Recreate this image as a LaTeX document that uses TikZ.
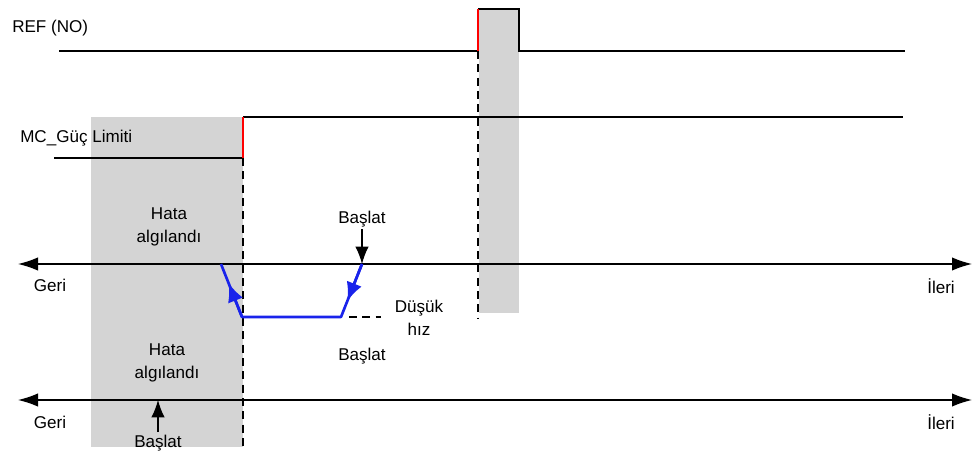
\documentclass[tikz,border=0pt]{standalone}
\usepackage{fontspec}
\setmainfont{Liberation Sans}
\usetikzlibrary{arrows.meta,calc,positioning}
\definecolor{runblue}{RGB}{25,35,235}
\definecolor{zone}{RGB}{212,212,212}

\begin{document}
\begin{tikzpicture}[x=0.75pt,y=-0.75pt,>=Latex,
  lbl/.style={font=\fontsize{12.8}{17.2}\selectfont,inner sep=0pt,align=center},
  sig/.style={line width=1.7pt},
  rise/.style={line width=1.7pt,red},
  axis/.style={line width=0.9pt,{Latex[length=15pt,width=10pt]}-{Latex[length=15pt,width=10pt]}},
  guide/.style={line width=0.8pt,dash pattern=on 6pt off 4pt},
  move/.style={line width=2pt,runblue},
  cue/.style={line width=0.9pt,-{Latex[length=13pt,width=10pt]}}]
  \useasboundingbox (0,0) rectangle (976,453);
  % shaded zones
  \fill[zone] (91,117) rectangle (243,447);
  \fill[zone] (479,9) rectangle (519,313);
  % REF (NO) signal
  \node[lbl,anchor=west] (ref) at (12,28) {REF (NO)};
  \coordinate (r0) at (59,51);
  \coordinate (r1) at (478,51);
  \coordinate (r2) at (478,9);
  \coordinate (r3) at (519,9);
  \coordinate (r4) at (519,51);
  \coordinate (r5) at (905,51);
  \draw[sig] (r0) -- (r1);
  \draw[sig] (r2) -- (r3) -- (r4) -- (r5);
  \draw[rise] (r1) -- (r2);
  % MC_Power limit signal
  \node[lbl,anchor=west] (mcp) at (20,138) {MC\_Güç Limiti};
  \coordinate (m0) at (54,158);
  \coordinate (m1) at (243,158);
  \coordinate (m2) at (243,117);
  \coordinate (m3) at (903,117);
  \draw[sig] (m0) -- (m1);
  \draw[sig] (m2) -- (m3);
  \draw[rise] (m1) -- (m2);
  % guides
  \coordinate (g1) at (243,447);
  \coordinate (g2) at (478,318);
  \draw[guide] (m1) -- (g1);
  \draw[guide] (r1) -- (g2);
  % upper axis
  \coordinate (a0) at (18,264);
  \coordinate (a1) at (972,264);
  \draw[axis] (a0) -- (a1);
  \node[lbl] (geri1) at (50,285) {Geri};
  \node[lbl] (ileri1) at (941,286) {İleri};
  \node[lbl] (hata1) at (169,227) {Hata\\algılandı};
  \node[lbl] (start1) at (362,219) {Başlat};
  \coordinate (s1) at (362,264);
  \coordinate (t1) at (362,229);
  \draw[cue] (t1) -- (s1);
  % blue motion
  \coordinate (b1) at (341,317);
  \coordinate (b2) at (242,317);
  \coordinate (b3) at (221,264);
  \draw[move,line join=round] (s1) -- (b1) -- (b2) -- (b3);
  \draw[move,-{Latex[length=14pt,width=12pt]}] (s1) -- ($(s1)!0.7!(b1)$);
  \draw[move,-{Latex[length=14pt,width=12pt]}] (b2) -- ($(b2)!0.64!(b3)$);
  \coordinate (d1) at (349,317);
  \coordinate (d2) at (381,317);
  \draw[guide] (d1) -- (d2);
  \node[lbl] (slow) at (419,318) {Düşük\\hız};
  \node[lbl] (start2) at (362,356) {Başlat};
  % lower axis
  \node[lbl] (hata2) at (167,363) {Hata\\algılandı};
  \coordinate (c0) at (18,400);
  \coordinate (c1) at (972,400);
  \draw[axis] (c0) -- (c1);
  \node[lbl] (geri2) at (50,422) {Geri};
  \node[lbl] (ileri2) at (941,422) {İleri};
  \node[lbl] (start3) at (158,443) {Başlat};
  \coordinate (s3) at (158,400);
  \coordinate (t3) at (158,432);
  \draw[cue] (t3) -- (s3);
\end{tikzpicture}
\end{document}
